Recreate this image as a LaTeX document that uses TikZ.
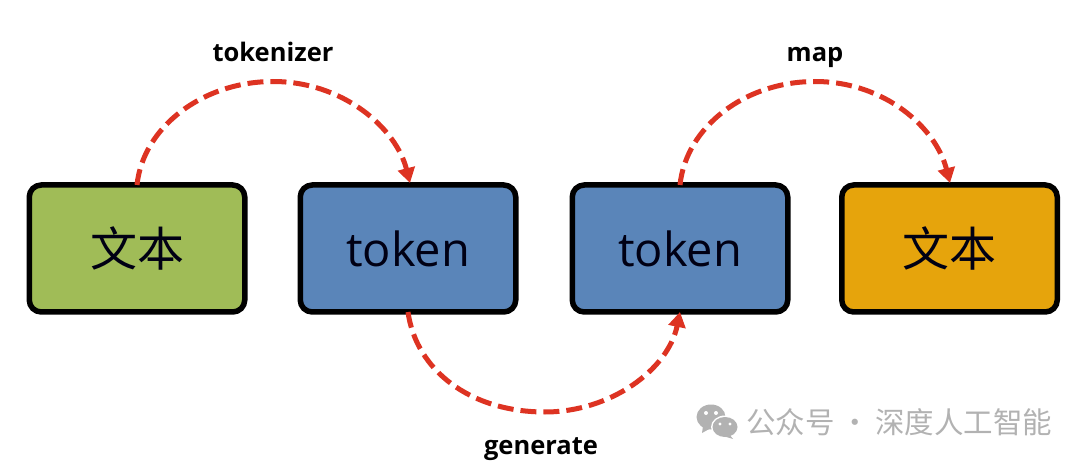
\documentclass[tikz,border=0pt]{standalone}
\usepackage{fontspec}
\setmainfont{Open Sans}
\newfontfamily\cjk{Noto Sans CJK SC}
\usetikzlibrary{arrows.meta,calc}
\definecolor{leaf}{HTML}{A0BC57}
\definecolor{steel}{HTML}{5A85B9}
\definecolor{amber}{HTML}{E6A40C}
\definecolor{flow}{HTML}{DD3322}
\definecolor{wmgray}{HTML}{B2B2B2}
\tikzset{
  box/.style={draw=black,line width=5.5pt,rounded corners=12pt,minimum width=215.5pt,minimum height=127pt,inner sep=0pt,outer sep=0pt,font=\fontsize{47}{50}\selectfont,text=black!92!blue},
  flowline/.style={draw=flow,line width=5pt,dash pattern=on 16pt off 7pt,-{Triangle[length=15pt,width=17pt,fill=flow]}},
  caption/.style={inner sep=0pt,anchor=base,font=\fontsize{25.5}{28}\selectfont\bfseries,text=black},
  wm/.style={inner sep=0pt,anchor=west,text=wmgray,font=\fontsize{29.5}{32}\selectfont\cjk},
}
\begin{document}
\begin{tikzpicture}[x=1pt,y=-1pt]
\useasboundingbox (0,0) rectangle (1080,465);
\node[box,fill=leaf]  (a) at (137,248.5) {\cjk 文本};
\node[box,fill=steel] (b) at (408,248.5) {token};
\node[box,fill=steel] (c) at (680,248.5) {token};
\node[box,fill=amber] (d) at (949.5,248.5) {\cjk 文本};
\node[caption] (t1) at (273,62) {tokenizer};
\node[caption] (t2) at (815,62) {map};
\node[caption] (t3) at (541,454) {generate};
\coordinate (p1) at (273,81.5);
\coordinate (p2) at (545,412);
\coordinate (p3) at (815,81.5);
\draw[flowline] (a.north) .. controls +(6,-58) and +(-70,0) .. (p1) .. controls +(70,0) and +(-14,-55) .. ($(b.north)+(2,-2)$);
\draw[flowline] (b.south) .. controls +(8,58) and +(-75,0) .. (p2) .. controls +(65,0) and +(-12,58) .. (c.south);
\draw[flowline] (c.north) .. controls +(6,-58) and +(-70,0) .. (p3) .. controls +(70,0) and +(-14,-55) .. ($(d.north)+(0.5,-2)$);
% watermark icon
\fill[wmgray] (711,417) ellipse [x radius=14.5pt,y radius=12.5pt];
\fill[wmgray] (703,426) -- (702,433) -- (711,428) -- cycle;
\fill[white] (725,427) ellipse [x radius=14pt,y radius=11.5pt];
\fill[wmgray] (725,427) ellipse [x radius=12.5pt,y radius=10pt];
\fill[wmgray] (729,434) -- (733,439) -- (723,436) -- cycle;
\fill[white] (706,413) circle (2pt) (716,413) circle (2pt) (720,424) circle (1.7pt) (730,424) circle (1.7pt);
\node[wm] (w) at (746,422) {公众号\hspace{-1pt} · \hspace{-1pt}深度人工智能};
\end{tikzpicture}
\end{document}
